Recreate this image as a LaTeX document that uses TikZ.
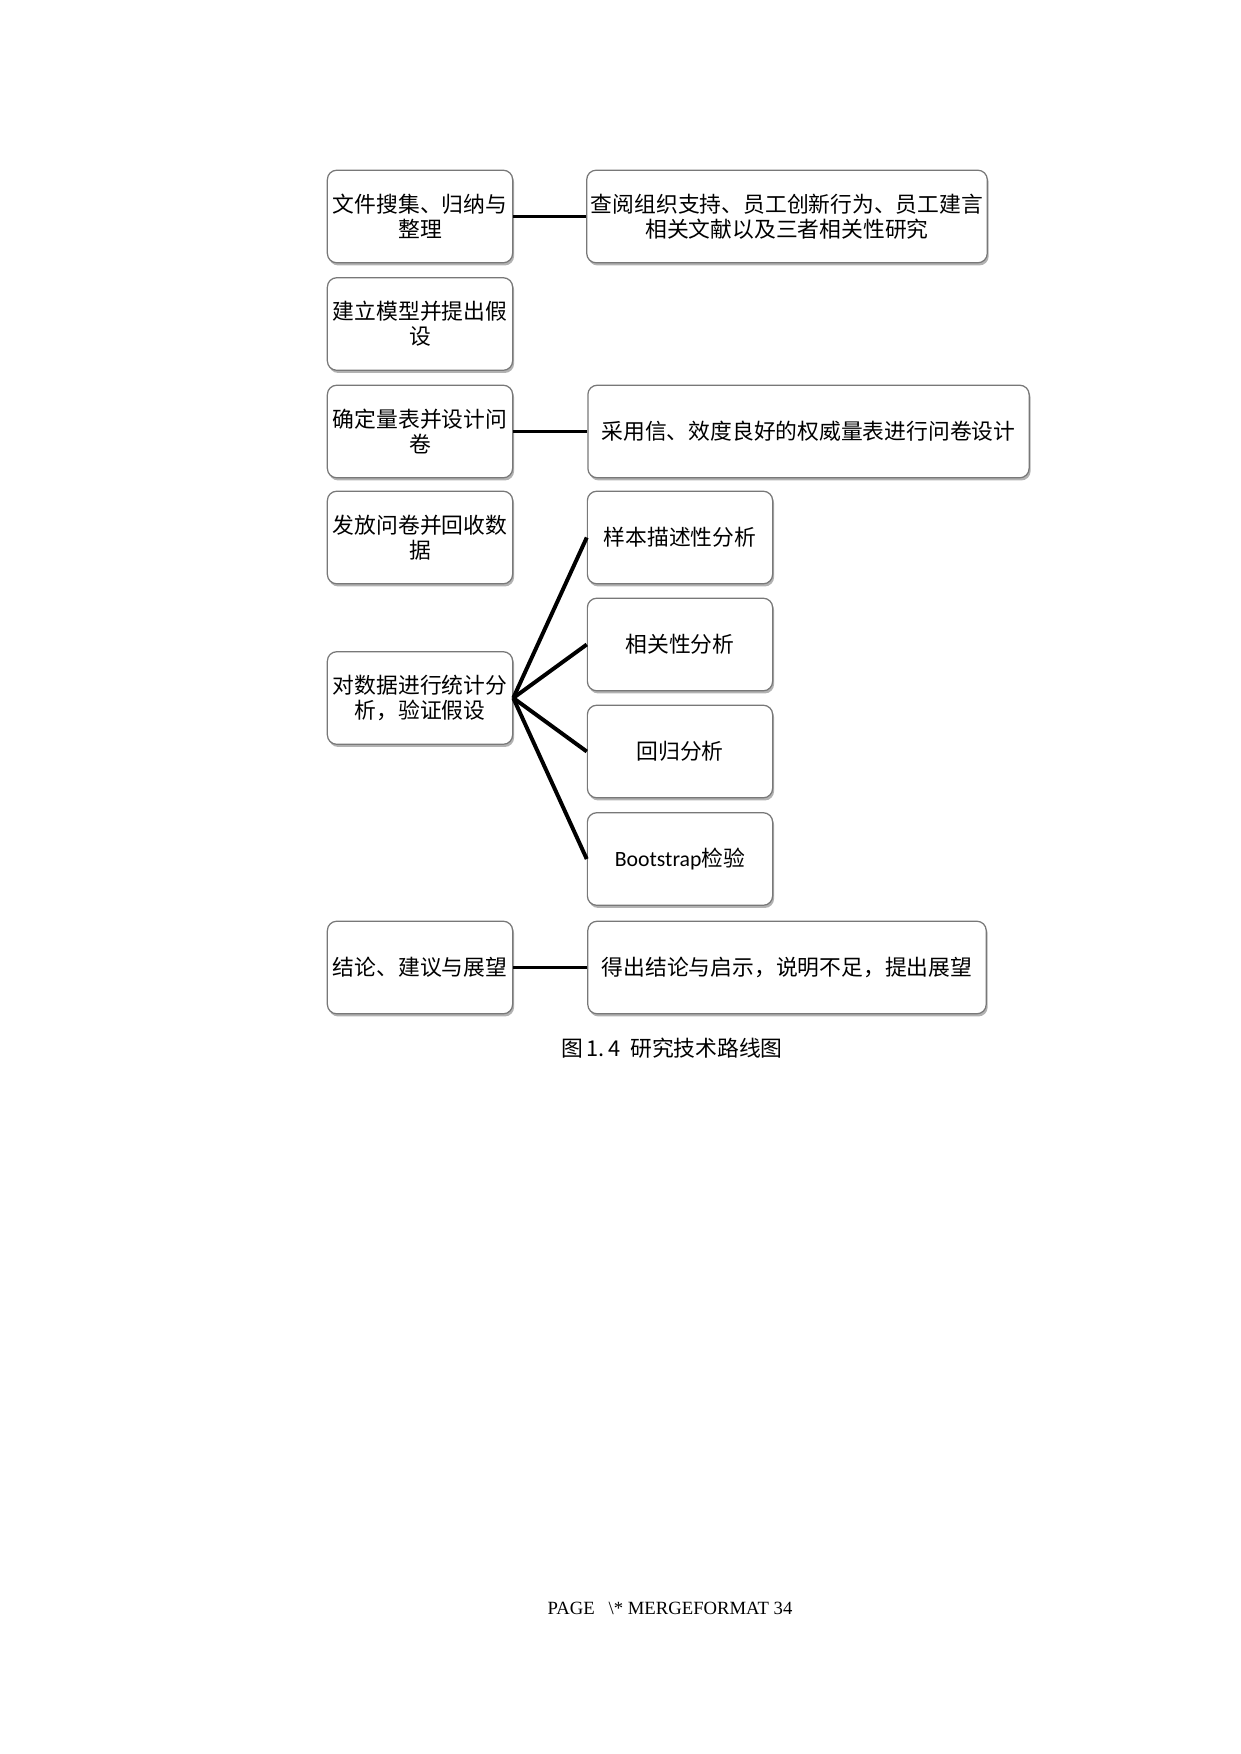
\documentclass[tikz,border=0pt]{standalone}
\usepackage{fontspec}
\setmainfont{Noto Sans CJK SC}
\newfontfamily\latinfont{Carlito}
\newfontfamily\footfont{Liberation Serif}
\usetikzlibrary{shadows}

\begin{document}
\begin{tikzpicture}[x=0.016933cm, y=-0.016933cm,
    box/.style={draw=boxgray, line width=0.6pt, rounded corners=4.5pt, fill=white,
        align=center, inner sep=2pt, font=\fontsize{10.5}{12.2}\selectfont,
        minimum width=#1*0.48pt, minimum height=44.6pt,
        drop shadow={shadow xshift=0.7pt, shadow yshift=-1.3pt, opacity=0.3, fill=black}},
    box/.default=186,
    link/.style={line width=1.9pt, black}]
        % Define colors
        \definecolor{boxgray}{RGB}{120,120,120}

        % Page
        \fill[white] (0,0) rectangle (1240,1754);
        \useasboundingbox (0,0) rectangle (1240,1754);

        % Left column
        \node[box] (lit)     at (420,216.5) {文件搜集、归纳与\\整理};
        \node[box] (model)   at (420,324)   {建立模型并提出假\\设};
        \node[box] (scale)   at (420,431.5) {确定量表并设计问\\卷};
        \node[box] (collect) at (420,537.5) {发放问卷并回收数\\据};
        \node[box] (stats)   at (420,698)   {对数据进行统计分\\析，验证假设};
        \node[box] (concl)   at (420,967.5) {结论、建议与展望};

        % Right column
        \node[box=400] (litR)   at (787,216.5)   {查阅组织支持、员工创新行为、员工建言\\相关文献以及三者相关性研究};
        \node[box=443] (scaleR) at (808.5,431.5) {采用信、效度良好的权威量表进行问卷设计};
        \node[box=400] (conclR) at (787,967.5)   {得出结论与启示，说明不足，提出展望};

        % Analysis steps
        \node[box] (desc) at (680,537.5) {样本描述性分析};
        \node[box] (corr) at (680,644.5) {相关性分析};
        \node[box] (regr) at (680,751.5) {回归分析};
        \node[box] (boot) at (680,859)   {{\latinfont Bootstrap}检验};

        % Connectors
        \draw[link] (lit) -- (litR);
        \draw[link] (scale) -- (scaleR);
        \draw[link] (concl) -- (conclR);
        \foreach \n in {desc,corr,regr,boot}
            \draw[link] (stats.east) -- (\n.west);

        % Caption
        \node[font=\fontsize{10.5}{12}\selectfont] (caption) at (672,1048) {图\,1.\,4\ \ 研究技术路线图};

        % Footer
        \node[font=\footfont\fontsize{9}{11}\selectfont] (footer) at (670,1608) {PAGE\ \ \ \textbackslash* MERGEFORMAT 34};

    \end{tikzpicture}
\end{document}
